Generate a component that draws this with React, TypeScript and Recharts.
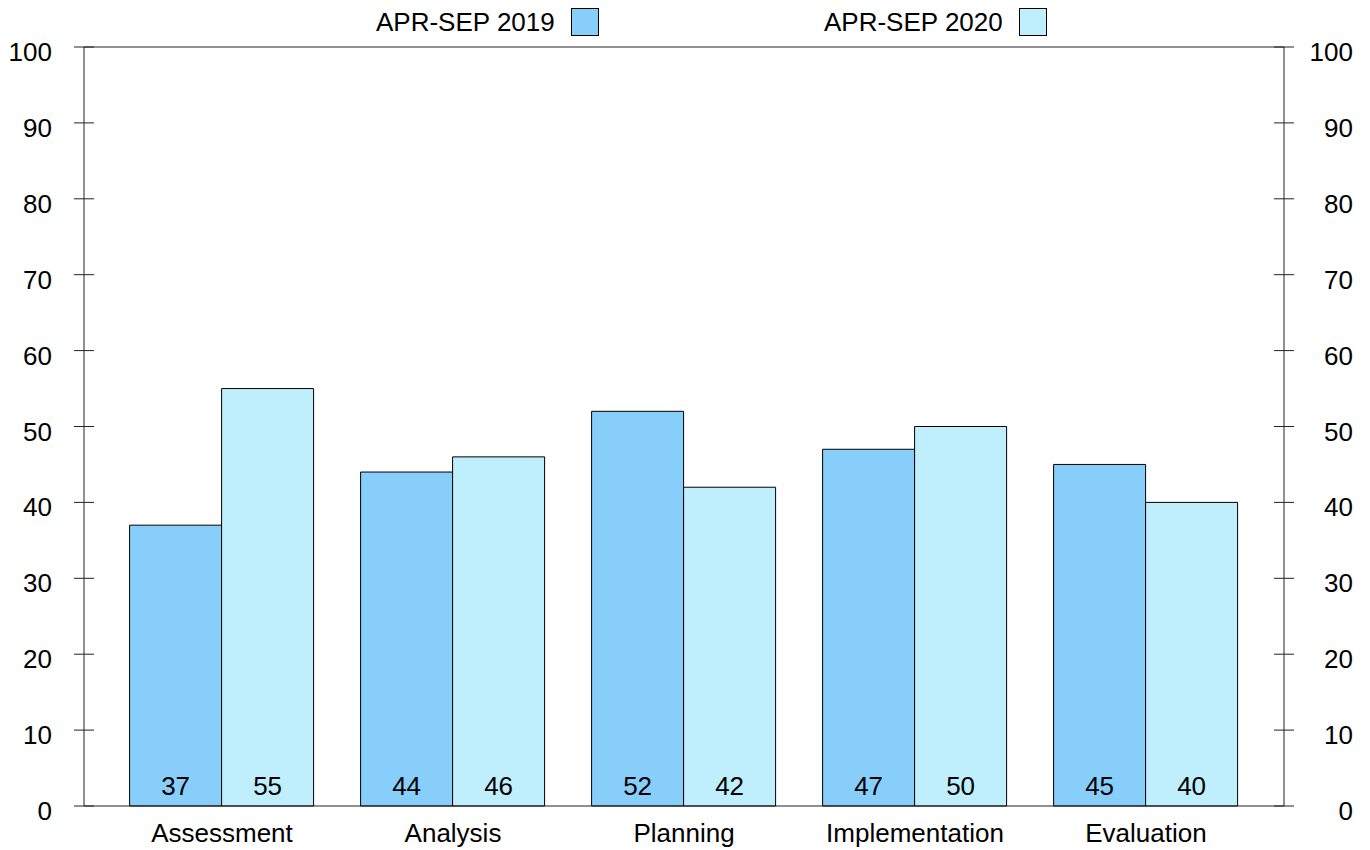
import React from "react";
import {
  BarChart,
  Bar,
  XAxis,
  YAxis,
  ReferenceLine,
  Legend,
  LabelList,
} from "recharts";

const categories = ["Assessment", "Analysis", "Planning", "Implementation", "Evaluation"];
const values2019 = [37, 44, 52, 47, 45];
const values2020 = [55, 46, 42, 50, 40];
const yTicks = [0, 10, 20, 30, 40, 50, 60, 70, 80, 90, 100];

const SERIES = [
  { key: "y2019", name: "APR-SEP 2019", color: "#87CEFA", axis: "left" },
  { key: "y2020", name: "APR-SEP 2020", color: "#BFEEFD", axis: "right" },
];

const FONT = "'Liberation Sans', Arial, sans-serif";
const FS = 26;
const LINE = "#222";

const data = categories.map((c, i) => ({
  name: c,
  y2019: values2019[i],
  y2020: values2020[i],
}));

function LeftTick(props: any) {
  const { x, y, payload } = props;
  return (
    <g>
      <line x1={x - 10} x2={x + 10} y1={y} y2={y} stroke={LINE} />
      <text x={x - 32} y={y + 14} textAnchor="end" fontSize={FS} fill="#000" fontFamily={FONT}>
        {payload.value}
      </text>
    </g>
  );
}

function RightTick(props: any) {
  const { x, y, payload } = props;
  return (
    <g>
      <line x1={x - 10} x2={x + 10} y1={y} y2={y} stroke={LINE} />
      <text x={x + 69} y={y + 14} textAnchor="end" fontSize={FS} fill="#000" fontFamily={FONT}>
        {payload.value}
      </text>
    </g>
  );
}

function CategoryTick(props: any) {
  const { x, y, payload } = props;
  return (
    <text x={x} y={y + 36} textAnchor="middle" fontSize={FS} fill="#000" fontFamily={FONT}>
      {payload.value}
    </text>
  );
}

function InsideLabel(props: any) {
  const { x, y, width, height, value } = props;
  return (
    <text
      x={x + width / 2}
      y={y + height - 11}
      textAnchor="middle"
      fontSize={FS}
      fill="#000"
      fontFamily={FONT}
    >
      {value}
    </text>
  );
}

function TopLegend() {
  const lefts = [376, 824];
  return (
    <div style={{ position: "relative", height: 0, width: 1370 }}>
      {SERIES.map((s, i) => (
        <div
          key={s.key}
          style={{
            position: "absolute",
            left: lefts[i],
            top: 8,
            height: 28,
            display: "flex",
            alignItems: "center",
            fontFamily: FONT,
            fontSize: FS,
            color: "#000",
            whiteSpace: "nowrap",
          }}
        >
          <span>{s.name}</span>
          <span
            style={{
              display: "inline-block",
              width: 28,
              height: 28,
              marginLeft: 16,
              background: s.color,
              border: "1px solid #000",
              boxSizing: "border-box",
            }}
          />
        </div>
      ))}
    </div>
  );
}

export default function App() {
  return (
    <div style={{ position: "absolute", left: 0, top: 0, width: 1370, height: 850, background: "#fff" }}>
      <BarChart
        width={1370}
        height={850}
        data={data}
        margin={{ top: 47, right: 0, bottom: 0, left: 0 }}
        barCategoryGap="10%"
        barGap={0}
      >
        <XAxis
          dataKey="name"
          height={44}
          padding={{ left: 22.5, right: 22.5 }}
          tickLine={false}
          tickSize={0}
          tickMargin={0}
          axisLine={{ stroke: LINE }}
          tick={<CategoryTick />}
          interval={0}
        />
        <YAxis
          yAxisId="left"
          orientation="left"
          width={84}
          domain={[0, 100]}
          ticks={yTicks}
          tickLine={false}
          tickSize={0}
          tickMargin={0}
          axisLine={{ stroke: LINE }}
          tick={<LeftTick />}
          interval={0}
        />
        <YAxis
          yAxisId="right"
          orientation="right"
          width={86}
          domain={[0, 100]}
          ticks={yTicks}
          tickLine={false}
          tickSize={0}
          tickMargin={0}
          axisLine={{ stroke: LINE }}
          tick={<RightTick />}
          interval={0}
        />
        <ReferenceLine yAxisId="left" y={100} stroke={LINE} />
        <Legend verticalAlign="top" align="left" content={<TopLegend />} wrapperStyle={{ top: 0, left: 0 }} />
        {SERIES.map((s) => (
          <Bar
            key={s.key}
            yAxisId={s.axis}
            dataKey={s.key}
            name={s.name}
            fill={s.color}
            stroke="#000"
            strokeWidth={1}
            isAnimationActive={false}
          >
            <LabelList dataKey={s.key} content={<InsideLabel />} />
          </Bar>
        ))}
      </BarChart>
    </div>
  );
}
